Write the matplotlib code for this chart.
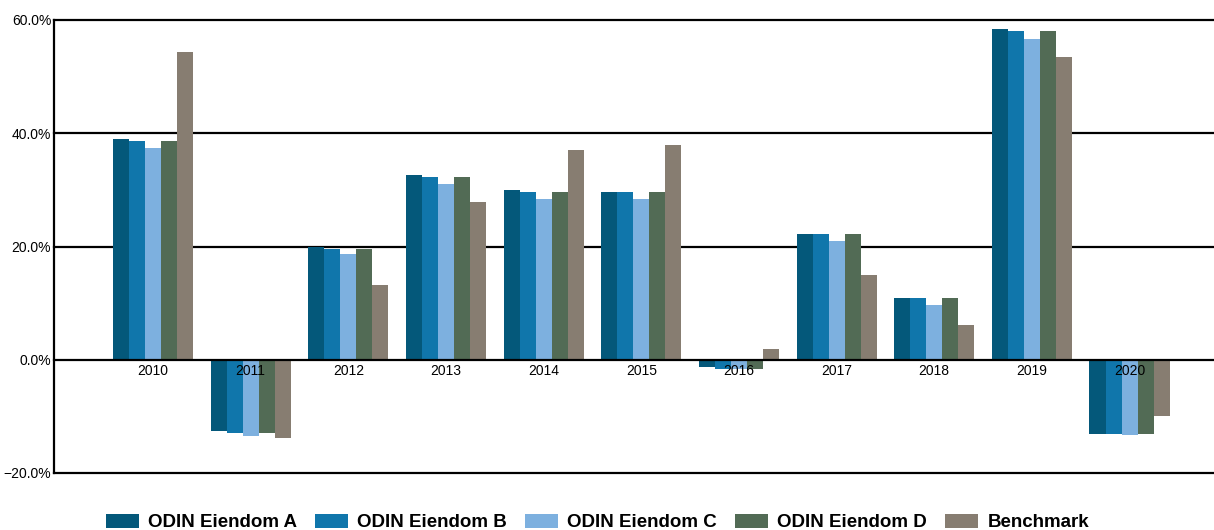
import matplotlib.pyplot as plt
import numpy as np
from matplotlib.ticker import PercentFormatter

plt.rcParams['font.family'] = ['Liberation Sans', 'DejaVu Sans']

# Årlig avkastning (%) per år
years = ['2010', '2011', '2012', '2013', '2014', '2015', '2016', '2017', '2018', '2019', '2020']
eiendom_a = [39.0, -12.5, 20.0, 32.6, 30.0, 29.6, -1.3, 22.2, 10.9, 58.4, -13.2]
eiendom_b = [38.6, -12.9, 19.6, 32.3, 29.6, 29.6, -1.7, 22.2, 10.9, 58.1, -13.2]
eiendom_c = [37.4, -13.4, 18.7, 31.1, 28.4, 28.4, -1.7, 21.0, 9.7, 56.6, -13.35]
eiendom_d = [38.6, -12.9, 19.6, 32.3, 29.6, 29.6, -1.7, 22.2, 10.9, 58.1, -13.2]
benchmark = [54.4, -13.8, 13.2, 27.9, 37.1, 37.9, 1.9, 15.0, 6.2, 53.5, -10.0]

series = [eiendom_a, eiendom_b, eiendom_c, eiendom_d, benchmark]
names = ['ODIN Eiendom A', 'ODIN Eiendom B', 'ODIN Eiendom C', 'ODIN Eiendom D', 'Benchmark']
colors = ['#04587A', '#1076AB', '#7DB0DF', '#526B55', '#877D71']

fig = plt.figure(figsize=(12.14, 5.30), dpi=100)
ax = fig.add_axes([54 / 1214, 1 - 473 / 530, 1 - 54 / 1214, (473 - 20) / 530])

x = np.arange(len(years))
w = 0.164
for i, (vals, name, c) in enumerate(zip(series, names, colors)):
    ax.bar(x + (i - 2) * w, vals, width=w, color=c, label=name, zorder=1)

# horisontale linjer
for yv in [-20, 20, 40, 60]:
    ax.axhline(yv, color='black', linewidth=1.6, zorder=0.5, clip_on=False)

ax.set_ylim(-20, 60)
ax.set_xlim(-1.014, 10.865)
ax.set_yticks([-20, 0, 20, 40, 60])
ax.yaxis.set_major_formatter(PercentFormatter(decimals=1))
ax.set_xticks(x)
ax.set_xticklabels(years)

ax.spines['top'].set_visible(False)
ax.spines['right'].set_visible(False)
ax.spines['bottom'].set_position(('data', 0))
ax.spines['bottom'].set_linewidth(1.6)
ax.spines['left'].set_linewidth(1.6)
ax.tick_params(axis='both', length=0, labelsize=10, colors='black')
ax.tick_params(axis='x', pad=3)
ax.tick_params(axis='y', pad=2)

fig.legend(loc='center', bbox_to_anchor=(0.492, 0.014), ncol=5, frameon=False,
           prop={'weight': 'bold', 'size': 13.5}, handlelength=1.76,
           handleheight=0.75, handletextpad=0.48, columnspacing=0.98)

plt.savefig('out.png', dpi=100)
